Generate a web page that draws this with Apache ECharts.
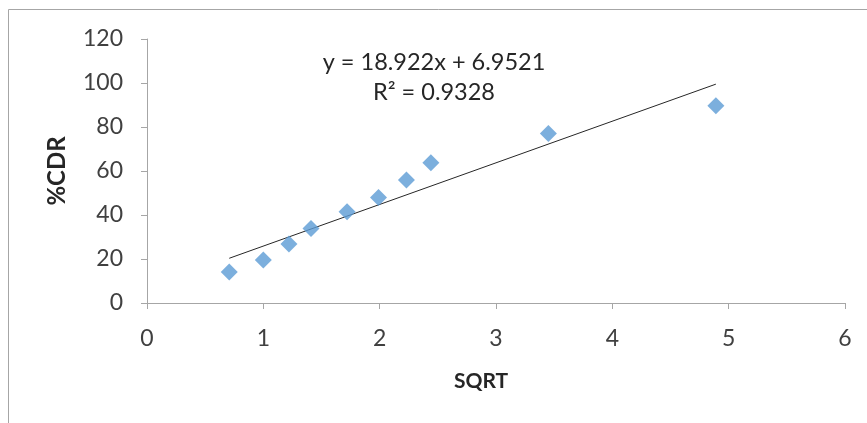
<!DOCTYPE html>
<html>
<head>
<meta charset="utf-8">
<script src="https://cdn.jsdelivr.net/npm/echarts@6/dist/echarts.min.js"></script>
<style>html,body{margin:0;padding:0;background:#fff}#c{width:867px;height:423px}</style>
</head>
<body>
<div id="c"></div>
<script>
const sqrtT = [0.707, 1.0, 1.22, 1.41, 1.72, 1.99, 2.23, 2.44, 3.45, 4.89];
const cdr = [14.1, 19.5, 26.8, 33.9, 41.5, 48.0, 55.9, 63.8, 77.1, 89.7];
const slope = 18.922;
const intercept = 6.9521;
const eqText = 'y = 18.922x + 6.9521';
const r2Text = 'R² = 0.9328';
const xTicks = [0, 1, 2, 3, 4, 5, 6];
const yTicks = [0, 20, 40, 60, 80, 100, 120];

const FONT = 'Lato, "Open Sans", sans-serif';
const xMin = Math.min(...sqrtT), xMax = Math.max(...sqrtT);
const trend = [[xMin, slope * xMin + intercept], [xMax, slope * xMax + intercept]];

const chart = echarts.init(document.getElementById('c'));
chart.setOption({
  animation: false,
  grid: {left: 147, right: 22, top: 39, bottom: 120},
  xAxis: {
    type: 'value', min: 0, max: 6, interval: 1,
    axisLine: {show: true, lineStyle: {color: '#a6a6a6', width: 1}},
    axisTick: {show: true, length: 6, lineStyle: {color: '#a6a6a6'}},
    splitLine: {show: false},
    axisLabel: {fontFamily: FONT, fontSize: 23, color: '#404040', margin: 24}
  },
  yAxis: {
    type: 'value', min: 0, max: 120, interval: 20,
    name: '%CDR', nameLocation: 'middle', nameGap: 78, nameRotate: 90,
    nameTextStyle: {fontFamily: FONT, fontSize: 24, fontWeight: 'bold', color: '#262626'},
    axisLine: {show: true, lineStyle: {color: '#a6a6a6', width: 1}},
    axisTick: {show: true, length: 6, lineStyle: {color: '#a6a6a6'}},
    splitLine: {show: false},
    axisLabel: {fontFamily: FONT, fontSize: 23, color: '#404040', margin: 24}
  },
  graphic: [
    {type: 'rect', shape: {x: 8.5, y: 9.5, width: 900, height: 500}, style: {fill: 'none', stroke: '#a6a6a6', lineWidth: 1}, z: -1},
    {type: 'text', x: 481, y: 381, style: {text: 'SQRT', font: 'bold 21px ' + FONT, fill: '#262626', textAlign: 'center', textVerticalAlign: 'middle'}},
    {type: 'text', x: 434, y: 62, style: {text: eqText, font: '23.5px ' + FONT, fill: '#262626', textAlign: 'center', textVerticalAlign: 'middle'}},
    {type: 'text', x: 434, y: 92, style: {text: r2Text, font: '23.5px ' + FONT, fill: '#262626', textAlign: 'center', textVerticalAlign: 'middle'}}
  ],
  series: [
    {type: 'line', data: trend, symbol: 'none', lineStyle: {color: '#262626', width: 1}, z: 1},
    {type: 'scatter', data: sqrtT.map((x, i) => [x, cdr[i]]), symbol: 'diamond', symbolSize: [17, 17],
     itemStyle: {color: '#5b9bd5'}, z: 2}
  ]
});
</script>
</body>
</html>
